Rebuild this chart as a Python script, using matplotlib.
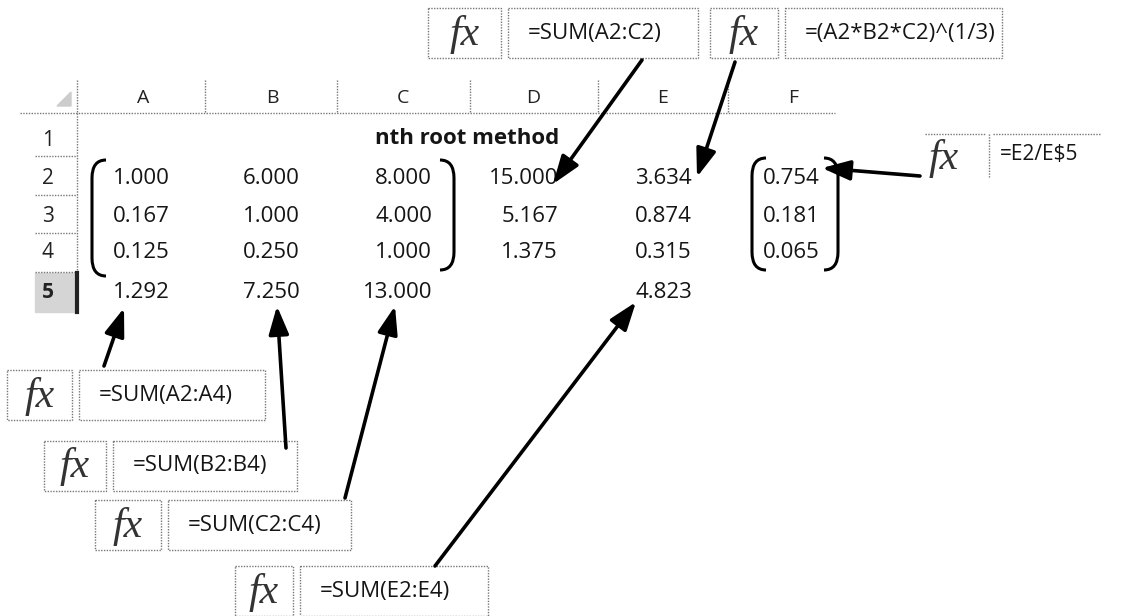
import matplotlib.pyplot as plt
from matplotlib.path import Path
from matplotlib.patches import PathPatch, Rectangle, Polygon

# spreadsheet content
col_letters = ["A", "B", "C", "D", "E", "F"]
row_numbers = ["1", "2", "3", "4", "5"]
col_A = [1.000, 0.167, 0.125]
col_B = [6.000, 1.000, 0.250]
col_C = [8.000, 4.000, 1.000]
row_sums_D = [15.000, 5.167, 1.375]
nth_root_E = [3.634, 0.874, 0.315]
weights_F = [0.754, 0.181, 0.065]
totals = {"A": 1.292, "B": 7.250, "C": 13.000, "E": 4.823}
title = "nth root method"

# formula call-outs: (fx box x, formula box x0, x1, y top, text)
formulas = [
    (428, 508, 698, 8, "=SUM(A2:C2)"),
    (710, 785, 1002, 8, "=(A2*B2*C2)^(1/3)"),
    (7, 79, 265, 370, "=SUM(A2:A4)"),
    (44, 113, 297, 441, "=SUM(B2:B4)"),
    (95, 168, 351, 500, "=SUM(C2:C4)"),
    (235, 300, 488, 566, "=SUM(E2:E4)"),
]
# arrows: start (box) -> end (cell)
arrows = [
    ((642, 60), (553, 184)),
    ((735, 62), (697, 177)),
    ((920, 176), (822, 168)),
    ((104, 366), (124, 308)),
    ((286, 448), (277, 306)),
    ((345, 498), (395, 306)),
    ((435, 566), (636, 302)),
]

fig = plt.figure(figsize=(11.26, 6.16), dpi=100)
ax = fig.add_axes([0, 0, 1, 1])
ax.set_xlim(0, 1126)
ax.set_ylim(616, 0)
ax.axis("off")

font = "Open Sans"
ink = "#151515"
dot = dict(color="#777777", lw=1, linestyle=(0, (1, 1)))

# header area
col_centers = [143, 272, 403, 533, 663, 793]
col_right = [170, 300, 432, 558, 692, 820]
row_y = [140, 179, 216, 253, 293]
for c, x in zip(col_letters, col_centers):
    ax.text(x, 98, c, ha="center", va="center", fontsize=14, family=font, color="#222222")
for sep in [77, 205, 337, 470, 598, 728]:
    ax.plot([sep, sep], [80, 113], **dot)
ax.plot([20, 835], [113, 113], **dot)
ax.add_patch(Polygon([(57, 106), (71, 92), (71, 106)], closed=True, color="#cccccc"))

for r, y in zip(row_numbers, row_y):
    ax.text(48, y, r, ha="center", va="center", fontsize=15, family=font,
            color="#222222", fontweight="bold" if r == "5" else "normal")
for ly in [156, 195, 233, 272]:
    ax.plot([35, 77], [ly, ly], **dot)
ax.plot([77, 77], [113, 312], **dot)
ax.add_patch(Rectangle((35, 273), 42, 39, color="#d5d5d5", zorder=0))
ax.plot([77, 77], [273, 312], color="#222222", lw=3)

ax.text(467, 138, title, ha="center", va="center", fontsize=16, family=font,
        fontweight="bold", color=ink)

columns = [col_A, col_B, col_C, row_sums_D, nth_root_E, weights_F]
for ci, vals in enumerate(columns):
    for ri, v in enumerate(vals):
        ax.text(col_right[ci], row_y[ri + 1], f"{v:.3f}", ha="right", va="center",
                fontsize=16, family=font, color=ink)
for letter, v in totals.items():
    ci = col_letters.index(letter)
    ax.text(col_right[ci], row_y[4], f"{v:.3f}", ha="right", va="center",
            fontsize=16, family=font, color=ink)


def bracket(x, top, bottom, side):
    d = 14 * side
    verts = [(x + d, top), (x, top), (x, top + 18), (x, bottom - 18), (x, bottom), (x + d, bottom)]
    codes = [Path.MOVETO, Path.CURVE3, Path.CURVE3, Path.LINETO, Path.CURVE3, Path.CURVE3]
    ax.add_patch(PathPatch(Path(verts, codes), fill=False, lw=2.2, color="black"))


bracket(92, 160, 276, 1)
bracket(454, 160, 270, -1)
bracket(752, 158, 270, 1)
bracket(838, 158, 270, -1)


def fx_label(x, y):
    ax.text(x, y, "fx", ha="center", va="center", fontsize=30, family="Liberation Serif",
            style="italic", color="#333333")


def fx_box(xf, x0, x1, y, text):
    h = 50
    ax.add_patch(Rectangle((xf, y), x0 - 7 - xf, h, fill=False, **dot))
    ax.add_patch(Rectangle((x0, y), x1 - x0, h, fill=False, **dot))
    fx_label((xf + x0 - 7) / 2, y + h / 2 + 1)
    ax.text(x0 + 20, y + h / 2, text, ha="left", va="center", fontsize=16,
            family=font, color=ink)


for f in formulas:
    fx_box(*f)

# right call-out without full border
ax.plot([925, 985], [134, 134], **dot)
ax.plot([993, 1100], [134, 134], **dot)
ax.plot([989, 989], [134, 178], **dot)
fx_label(944, 158)
ax.text(1000, 155, "=E2/E$5", ha="left", va="center", fontsize=15, family=font, color=ink)

for start, end in arrows:
    ax.annotate("", xy=end, xytext=start,
                arrowprops=dict(arrowstyle="-|>,head_length=0.9,head_width=0.32",
                                lw=2.6, color="black", mutation_scale=19, shrinkA=0, shrinkB=0))

fig.savefig("out.png", dpi=100)
